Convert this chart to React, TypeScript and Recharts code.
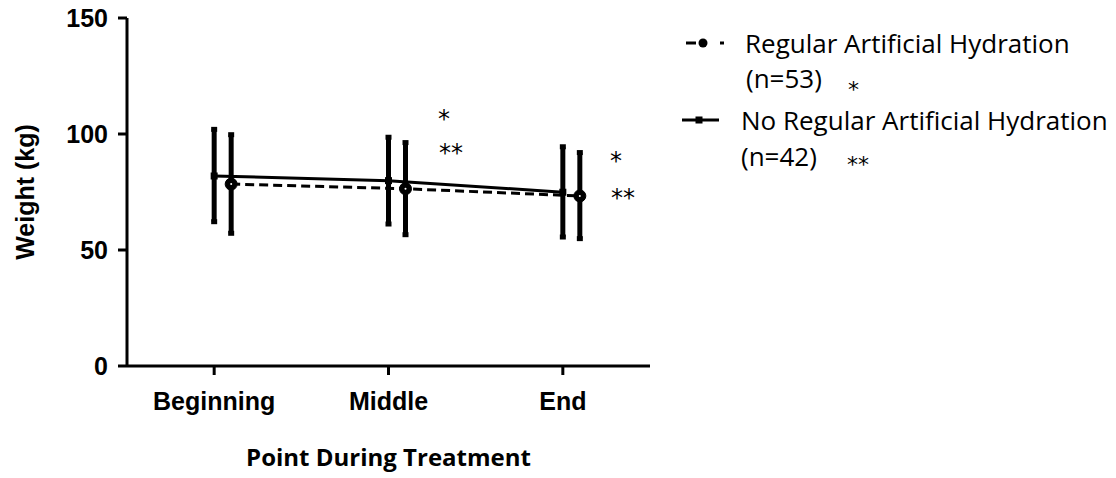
import React from 'react';
import { LineChart, Line, XAxis, YAxis, ErrorBar } from 'recharts';

const categories = ['Beginning', 'Middle', 'End'];
const regularMean = [78.4, 76.4, 73.3];
const regularLow = [57.2, 56.6, 54.9];
const regularHigh = [99.7, 96.3, 92.0];
const noRegularMean = [81.9, 79.9, 74.9];
const noRegularLow = [62.2, 61.2, 55.6];
const noRegularHigh = [102.0, 98.6, 94.5];
const yTicks = [0, 50, 100, 150];

const regularLabel = 'Regular Artificial Hydration';
const regularN = '(n=53)';
const noRegularLabel = 'No Regular Artificial Hydration';
const noRegularN = '(n=42)';

const data = categories.map((c, i) => ({
  cat: c,
  reg: regularMean[i],
  regErr: [regularMean[i] - regularLow[i], regularHigh[i] - regularMean[i]],
  noReg: noRegularMean[i],
  noRegErr: [noRegularMean[i] - noRegularLow[i], noRegularHigh[i] - noRegularMean[i]],
}));

const axisFont = { fontFamily: '"Liberation Sans", Arial, sans-serif', fontWeight: 700, fontSize: 25, fill: '#000' };
const textFont = '"Open Sans", "Lato", sans-serif';
const starFont = '"DejaVu Sans", sans-serif';

const CircleDot = (props: any) => {
  const { cx, cy } = props;
  if (cx == null || cy == null) return null;
  return (
    <g>
      <circle cx={cx} cy={cy} r={6} fill="#000" stroke="#000" strokeWidth={1} />
      <circle cx={cx} cy={cy} r={1} fill="#fff" />
    </g>
  );
};

const SquareDot = (props: any) => {
  const { cx, cy } = props;
  if (cx == null || cy == null) return null;
  return <rect x={cx - 3.5} y={cy - 3.5} width={7} height={7} fill="#000" />;
};

export default function App() {
  return (
    <div style={{ position: 'absolute', left: 0, top: 0, width: 1116, height: 478, background: '#fff' }}>
      <LineChart width={1116} height={478} data={data} margin={{ top: 18, right: 466, left: 0, bottom: 0 }}>
        <XAxis
          xAxisId="main"
          dataKey="cat"
          scale="band"
          height={112}
          tickSize={9}
          tickMargin={17}
          axisLine={{ stroke: '#000', strokeWidth: 3 }}
          tickLine={{ stroke: '#000', strokeWidth: 3 }}
          tick={axisFont}
          label={{
            value: 'Point During Treatment',
            position: 'insideBottom',
            offset: 12,
            style: { fontFamily: textFont, fontWeight: 700, fontSize: 24, fill: '#000' },
          }}
        />
        <XAxis xAxisId="shift" dataKey="cat" scale="band" hide padding={{ left: 17, right: -17 }} />
        <YAxis
          type="number"
          domain={[0, 150]}
          ticks={yTicks}
          width={127}
          tickSize={9}
          tickMargin={10}
          axisLine={{ stroke: '#000', strokeWidth: 3 }}
          tickLine={{ stroke: '#000', strokeWidth: 3 }}
          tick={axisFont}
          label={{
            value: 'Weight (kg)',
            angle: -90,
            position: 'insideLeft',
            offset: 25,
            style: { textAnchor: 'middle', ...axisFont },
          }}
        />
        <Line
          xAxisId="main"
          dataKey="noReg"
          stroke="#000"
          strokeWidth={3}
          dot={<SquareDot />}
          activeDot={false}
          isAnimationActive={false}
        >
          <ErrorBar dataKey="noRegErr" direction="y" width={3} strokeWidth={5} stroke="#000" />
        </Line>
        <Line
          xAxisId="shift"
          dataKey="reg"
          stroke="#000"
          strokeWidth={3}
          strokeDasharray="9 5"
          dot={<CircleDot />}
          activeDot={false}
          isAnimationActive={false}
        >
          <ErrorBar dataKey="regErr" direction="y" width={3} strokeWidth={5} stroke="#000" />
        </Line>
      </LineChart>
      <svg width={1116} height={478} style={{ position: 'absolute', left: 0, top: 0, pointerEvents: 'none' }}>
        <g fontFamily={starFont} fontSize={24} fill="#000">
          <text x={438} y={127}>*</text>
          <text x={439} y={161}>**</text>
          <text x={610} y={169}>*</text>
          <text x={611} y={206}>**</text>
          <text x={848} y={97} fontSize={22}>*</text>
          <text x={847} y={172} fontSize={22}>**</text>
        </g>
        <g fontFamily={textFont} fontSize={26} fill="#000">
          <line x1={686} y1={43} x2={696} y2={43} stroke="#000" strokeWidth={3} />
          <circle cx={703} cy={43} r={4.5} fill="#000" />
          <line x1={720} y1={43} x2={724} y2={43} stroke="#000" strokeWidth={3} />
          <text x={745} y={53}>{regularLabel}</text>
          <text x={746} y={88}>{regularN}</text>

          <line x1={682} y1={120} x2={719} y2={120} stroke="#000" strokeWidth={3} />
          <rect x={695.5} y={116.5} width={7} height={7} fill="#000" />
          <text x={741} y={130}>{noRegularLabel}</text>
          <text x={741} y={166}>{noRegularN}</text>
        </g>
      </svg>
    </div>
  );
}
